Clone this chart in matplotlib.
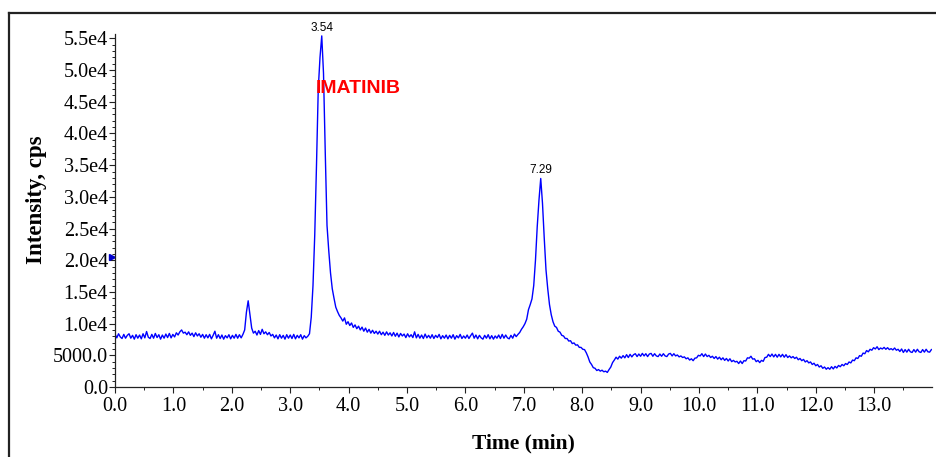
import numpy as np
import matplotlib
matplotlib.use("Agg")
import matplotlib.pyplot as plt
from matplotlib.ticker import MultipleLocator, FuncFormatter
from matplotlib.lines import Line2D

# Detector scan interval (min) and recorded intensities (cps)
SCAN_INTERVAL = 0.03
intensity = [
    8350, 7750, 8400, 7900, 7650, 8300, 7700, 8150, 8400, 7700,
    8150, 7550, 8250, 7700, 8200, 7600, 8400, 7750, 8750, 7850,
    7650, 8300, 7700, 8450, 7800, 8250, 7550, 8200, 7700, 8350,
    7800, 8450, 7750, 8300, 7900, 8550, 8200, 8700, 9000, 8500,
    8650, 8250, 8700, 8150, 8500, 7950, 8550, 8050, 8400, 7850,
    8300, 7700, 8250, 7750, 8300, 7600, 8150, 8800, 7700, 8250,
    7650, 8200, 7550, 8100, 7750, 8250, 7600, 8150, 7700, 8300,
    7700, 8250, 7750, 8300, 9000, 11800, 13600, 11500, 9300, 8500,
    8800, 8200, 8900, 8300, 9100, 8400, 8700, 8250, 8600, 8050,
    8300, 7750, 8200, 7600, 8250, 7700, 8150, 7550, 8250, 7700,
    8200, 7650, 8300, 7600, 8150, 7750, 8250, 7550, 8100, 7750,
    8000, 8400, 11000, 16000, 24000, 35000, 47000, 52000, 55400, 49500,
    37000, 25500, 21500, 18000, 15500, 14000, 12600, 11900, 11300, 10900,
    10400, 10900, 9900, 10300, 9700, 10100, 9400, 9800, 9200, 9600,
    9000, 9450, 8800, 9300, 8650, 9100, 8500, 8950, 8450, 8800,
    8350, 8800, 8250, 8650, 8150, 8700, 8200, 8550, 8050, 8600,
    8000, 8500, 7900, 8450, 8050, 8350, 7800, 8400, 7900, 8250,
    7800, 8700, 7750, 8300, 7700, 8200, 7650, 8350, 7750, 8150,
    7700, 8250, 7650, 8150, 7800, 8300, 7600, 8100, 7700, 8200,
    7600, 8150, 7700, 8250, 7550, 8100, 7750, 8300, 7650, 8050,
    7700, 8200, 7650, 8100, 8500, 7700, 8200, 7600, 8150, 7750,
    7550, 8150, 7700, 8250, 7600, 8100, 7550, 8050, 7700, 8200,
    7650, 8300, 7700, 8200, 7750, 7600, 8150, 7700, 8350, 7950,
    8300, 8600, 9100, 9500, 10000, 10700, 12200, 13000, 13900, 16000,
    20000, 25300, 29500, 32900, 29000, 23500, 18500, 15500, 13000, 11400,
    10300, 9600, 9400, 8800, 8650, 8150, 8050, 7650, 7650, 7250,
    7300, 6850, 6950, 6600, 6650, 6250, 6250, 5950, 5900, 5400,
    4750, 3950, 3550, 3050, 2950, 2600, 2750, 2500, 2650, 2400,
    2500, 2300, 2750, 3150, 3850, 4250, 4700, 4400, 4850, 4550,
    4950, 4600, 5100, 4650, 5150, 4750, 5100, 5250, 4800, 5200,
    4850, 5300, 4900, 5250, 4800, 5200, 5300, 4850, 5250, 4900,
    4800, 5200, 4850, 5250, 4900, 4800, 5200, 5300, 4900, 5250,
    4900, 5050, 4750, 4900, 4650, 4750, 4450, 4600, 4250, 4450,
    4150, 4550, 4600, 5000, 4900, 5250, 4800, 5200, 4800, 5000,
    4650, 4850, 4500, 4800, 4400, 4700, 4300, 4600, 4200, 4500,
    4100, 4450, 4000, 4200, 3950, 4050, 3700, 4100, 3700, 4150,
    4100, 4600, 4550, 4850, 4400, 4450, 4000, 4200, 3850, 4200,
    4050, 4650, 4700, 5150, 4800, 5200, 4750, 5150, 4700, 5150,
    4750, 5150, 4700, 5100, 4650, 4900, 4600, 4800, 4500, 4700,
    4300, 4500, 4150, 4350, 3950, 4150, 3800, 3950, 3550, 3750,
    3350, 3550, 3150, 3350, 2950, 3150, 2800, 3050, 2800, 3200,
    2850, 3250, 3000, 3400, 3200, 3550, 3350, 3700, 3550, 3950,
    3800, 4250, 4150, 4600, 4500, 4950, 4850, 5350, 5250, 5750,
    5550, 5950, 5800, 6200, 6000, 6350, 5900, 6150, 6000, 6250,
    5950, 6200, 5900, 6050, 5850, 6150, 5800, 5950, 5600, 6000,
    5450, 5900, 5500, 5950, 5550, 5450, 5900, 5500, 5950, 5550,
    5450, 5900, 5500, 5950, 5550, 5500, 5900,
]

peak_times = [3.54, 7.29]
peak_labels = ["3.54", "7.29"]
compound_name = "IMATINIB"
marker_level = 20500

time_min = np.arange(len(intensity)) * SCAN_INTERVAL
intensity = np.asarray(intensity, dtype=float)

plt.rcParams["font.family"] = ["Liberation Serif", "DejaVu Serif"]

fig = plt.figure(figsize=(9.36, 4.57), dpi=100)
ax = fig.add_axes([0.1229, 0.1532, 0.8728, 0.7724])

ax.plot(time_min, intensity, color="#0000ff", lw=1.0)

ax.set_xlim(0, 13.99)
ax.set_ylim(0, 55700)

for side in ("top", "right"):
    ax.spines[side].set_visible(False)
for side in ("left", "bottom"):
    ax.spines[side].set_linewidth(0.9)
    ax.spines[side].set_color("#222222")

ax.xaxis.set_major_locator(MultipleLocator(1.0))
ax.xaxis.set_minor_locator(MultipleLocator(0.5))
ax.yaxis.set_major_locator(MultipleLocator(5000))
ax.yaxis.set_minor_locator(MultipleLocator(1000))


def y_fmt(v, _):
    if v < 9999:
        return f"{v:.1f}"
    return f"{v / 1e4:.1f}e4"


ax.yaxis.set_major_formatter(FuncFormatter(y_fmt))
ax.xaxis.set_major_formatter(FuncFormatter(lambda v, _: f"{v:.1f}"))
ax.tick_params(which="major", length=4, width=0.8, labelsize=14.5,
               color="#222222")
ax.tick_params(axis="y", which="major", pad=1)
ax.tick_params(axis="x", which="major", pad=3)
ax.tick_params(which="minor", length=2.5, width=0.7, color="#222222")

ax.set_xlabel("Time (min)", fontsize=15.5, fontweight="bold", labelpad=13)
ax.set_ylabel("Intensity, cps", fontsize=16.5, fontweight="bold",
              labelpad=4, y=0.53)

# retention-time labels at peak apices
for t, lab in zip(peak_times, peak_labels):
    idx = int(np.argmin(np.abs(time_min - t)))
    ax.annotate(lab, xy=(t, intensity[idx]), xytext=(0, 1.5),
                textcoords="offset points", ha="center", va="bottom",
                fontsize=8.5, family=["Liberation Sans", "DejaVu Sans"],
                annotation_clip=False)

ax.text(4.16, 47100, compound_name, color="#ff0000", fontsize=14,
        fontweight="bold", family=["Liberation Sans", "DejaVu Sans"],
        ha="center", va="center")

# threshold marker on the intensity axis
ax.plot([-0.05], [marker_level], marker=">", color="#0000cc", markersize=5,
        clip_on=False, linestyle="none")

# outer panel frame
fig.add_artist(Line2D([9 / 936, 9 / 936], [0, 1 - 13 / 457],
                      transform=fig.transFigure, color="#222222", lw=1.6))
fig.add_artist(Line2D([9 / 936, 935 / 936], [1 - 13 / 457, 1 - 13 / 457],
                      transform=fig.transFigure, color="#222222", lw=1.6))

fig.savefig("out.png", dpi=100)
